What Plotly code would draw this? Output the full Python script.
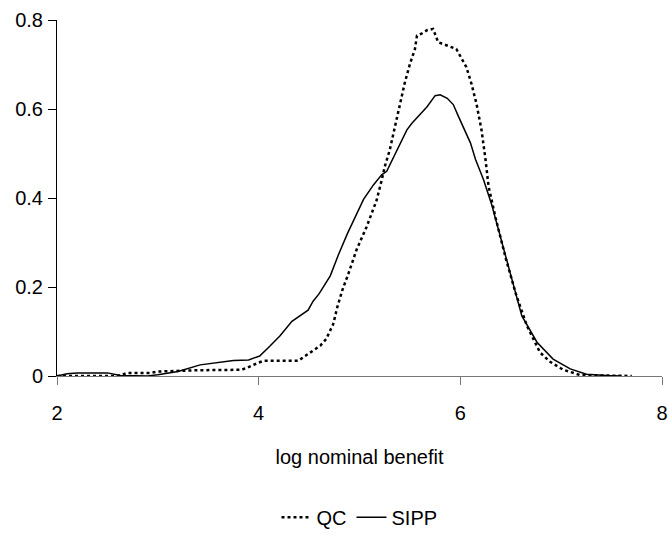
import plotly.graph_objects as go

# SIPP (solid line)
sipp_x = [2.0, 2.1, 2.2, 2.5, 2.63, 2.9, 3.0, 3.2, 3.42, 3.62, 3.75, 3.9, 4.01, 4.11, 4.21,
          4.33, 4.41, 4.49, 4.54, 4.6, 4.71, 4.79, 4.88, 5.04, 5.14, 5.22, 5.27, 5.37, 5.47,
          5.52, 5.67, 5.75, 5.8, 5.87, 5.93, 5.98, 6.1, 6.15, 6.23, 6.31, 6.4, 6.5, 6.61,
          6.76, 6.92, 7.09, 7.25, 7.45, 7.6]
sipp_y = [0.0, 0.005, 0.007, 0.007, 0.001, 0.0, 0.003, 0.01, 0.025, 0.032, 0.035, 0.036, 0.045,
          0.067, 0.09, 0.123, 0.136, 0.148, 0.168, 0.185, 0.225, 0.272, 0.32, 0.397, 0.43,
          0.452, 0.46, 0.508, 0.553, 0.568, 0.605, 0.63, 0.632, 0.624, 0.61, 0.584, 0.524,
          0.487, 0.441, 0.386, 0.311, 0.225, 0.135, 0.076, 0.038, 0.016, 0.004, 0.001, 0.0]

# QC (dotted line)
qc_x = [2.0, 2.6, 2.7, 2.92, 3.0, 3.4, 3.83, 3.89, 4.0, 4.05, 4.39, 4.51, 4.61, 4.67, 4.74,
        4.78, 4.83, 4.89, 4.97, 5.07, 5.17, 5.22, 5.25, 5.3, 5.35, 5.4, 5.45, 5.5, 5.55,
        5.57, 5.62, 5.67, 5.73, 5.78, 5.96, 6.06, 6.11, 6.16, 6.21, 6.25, 6.28, 6.35, 6.45,
        6.55, 6.66, 6.79, 6.89, 7.02, 7.19, 7.7]
qc_y = [0.0, 0.0, 0.007, 0.007, 0.01, 0.013, 0.014, 0.019, 0.03, 0.034, 0.034, 0.053, 0.068,
        0.083, 0.117, 0.155, 0.193, 0.23, 0.283, 0.335, 0.395, 0.44, 0.47, 0.508, 0.56, 0.605,
        0.66, 0.701, 0.735, 0.765, 0.77, 0.777, 0.78, 0.75, 0.735, 0.694, 0.657, 0.612, 0.553,
        0.486, 0.426, 0.355, 0.265, 0.185, 0.113, 0.053, 0.032, 0.014, 0.002, 0.0]

x_ticks = [2, 4, 6, 8]
y_ticks = [0, 0.2, 0.4, 0.6, 0.8]

FONT = "Liberation Sans, Arial, sans-serif"

fig = go.Figure()
fig.add_trace(go.Scatter(x=qc_x, y=qc_y, mode="lines", name="QC",
                         line=dict(color="black", width=2.5, dash="3px,3px")))
fig.add_trace(go.Scatter(x=sipp_x, y=sipp_y, mode="lines", name="SIPP",
                         line=dict(color="black", width=1.5)))

fig.update_layout(
    width=668, height=537,
    margin=dict(l=57, r=6, t=19.5, b=161, autoexpand=False),
    paper_bgcolor="white", plot_bgcolor="white",
    font=dict(family=FONT, size=19, color="black"),
    showlegend=True,
    legend=dict(orientation="h", x=0.5, xanchor="center", y=-0.397, yanchor="middle",
                font=dict(size=20), itemwidth=30, tracegroupgap=0),
    xaxis=dict(range=[2, 8], tickvals=x_ticks, ticks="outside", ticklen=8, tickcolor="#777",
               showline=True, linecolor="#777", linewidth=1, showgrid=False, zeroline=False,
               tickfont=dict(size=20), ticklabelstandoff=11, automargin=False,
               ticklabeloverflow="allow",
               title=dict(text="log nominal benefit", font=dict(size=20), standoff=26)),
    yaxis=dict(range=[0, 0.8], tickvals=y_ticks, ticks="outside", ticklen=8, tickcolor="black",
               showline=True, linecolor="black", linewidth=1, showgrid=False, zeroline=False,
               tickfont=dict(size=20), ticklabelstandoff=1, automargin=False),
)

# remove the page body's default margin so the figure fills the window exactly
fig.write_html("out.html",
               config={"displayModeBar": False},
               post_script="document.body.style.margin='0';document.body.style.overflow='hidden';")
